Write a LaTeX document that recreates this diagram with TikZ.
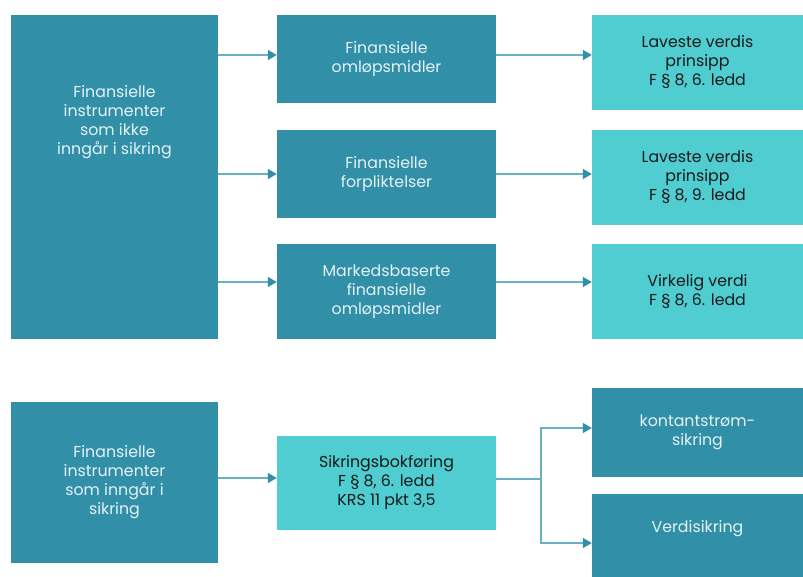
\documentclass[tikz,border=0pt]{standalone}
\usepackage{fontspec}
\setmainfont{Poppins}
\usetikzlibrary{arrows.meta,positioning}
\definecolor{boxteal}{HTML}{318FA8}
\definecolor{boxcyan}{HTML}{4FCDD1}
\definecolor{lighttext}{HTML}{E4F2F6}
\definecolor{linkblue}{HTML}{6CB0C6}
\begin{document}
\begin{tikzpicture}[x=1pt, y=-1pt,
    every node/.style={font=\fontsize{15.8}{19}\selectfont, align=center},
    darkbox/.style={rectangle, fill=boxteal, text=lighttext, inner sep=0pt},
    lightbox/.style={rectangle, fill=boxcyan, text=black!90, inner sep=0pt},
    link/.style={draw=linkblue, line width=1.5pt, -{Triangle[length=9pt, width=10pt, color=boxteal]}}]
    \useasboundingbox (0,0) rectangle (803,577);

    % Not hedged
    \node[darkbox, minimum width=207, minimum height=324,
        label={[text=lighttext, anchor=center, yshift=-107pt]north:Finansielle\\instrumenter\\som ikke\\inngår i sikring}] (ikke) at (114.5,177) {};
    \node[darkbox, minimum width=219, minimum height=88] (omlop) at (386.5,59) {Finansielle\\omløpsmidler};
    \node[darkbox, minimum width=219, minimum height=88] (forpl) at (386.5,174) {Finansielle\\forpliktelser};
    \node[darkbox, minimum width=219, minimum height=95] (marked) at (386.5,291.5) {Markedsbaserte\\finansielle\\omløpsmidler};
    \node[lightbox, minimum width=211, minimum height=95] (lav6) at (697.5,62.5) {Laveste verdis\\prinsipp\\F § 8, 6. ledd};
    \node[lightbox, minimum width=211, minimum height=95] (lav9) at (697.5,177.5) {Laveste verdis\\prinsipp\\F § 8, 9. ledd};
    \node[lightbox, minimum width=211, minimum height=95] (virk) at (697.5,291.5) {Virkelig verdi\\F § 8, 6. ledd};

    % Hedged
    \node[darkbox, minimum width=207, minimum height=161] (inngar) at (114.5,482.5) {Finansielle\\instrumenter\\som inngår i\\sikring};
    \node[lightbox, minimum width=219, minimum height=94] (sikr) at (386.5,483) {Sikringsbokføring\\F § 8, 6. ledd\\KRS 11 pkt 3,5};
    \node[darkbox, minimum width=211, minimum height=89] (kontant) at (697.5,432) {kontantstrøm-\\sikring};
    \node[darkbox, minimum width=211, minimum height=89,
        label={[text=lighttext, anchor=center, yshift=10pt]center:Verdisikring}] (verdi) at (697.5,538.5) {};
    \coordinate (split) at (541,479);

    % Arrows
    \draw[link] (ikke.east |- 0,55) -- (omlop.west |- 0,55);
    \draw[link] (ikke.east |- forpl) -- (forpl.west);
    \draw[link] (ikke.east |- 0,282) -- (marked.west |- 0,282);
    \draw[link] (omlop.east |- 0,55) -- (lav6.west |- 0,55);
    \draw[link] (forpl.east) -- (lav9.west |- forpl);
    \draw[link] (marked.east |- 0,282) -- (virk.west |- 0,282);
    \draw[link] (inngar.east |- 0,478) -- (sikr.west |- 0,478);
    \draw[link] (sikr.east |- split) -- (split) |- (kontant.west |- 0,428);
    \draw[link] (split) |- (verdi.west |- 0,543);
\end{tikzpicture}
\end{document}
